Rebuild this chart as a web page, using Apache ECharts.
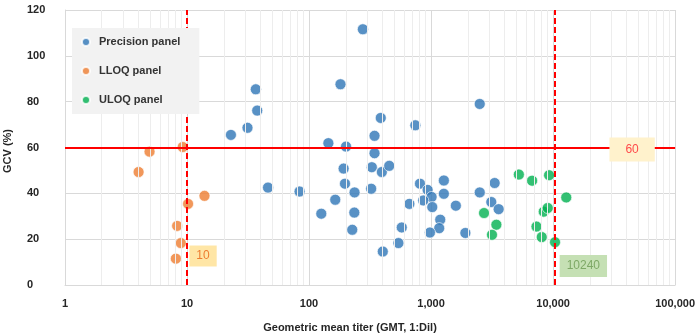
<!DOCTYPE html>
<html><head><meta charset="utf-8">
<script src="https://cdn.jsdelivr.net/npm/echarts@6/dist/echarts.min.js"></script>
<style>html,body{margin:0;padding:0;background:#fff}#c{width:698px;height:335px}</style>
</head><body><div id="c"></div>
<script>
// ---- data ----
const xTicks = [1, 10, 100, 1000, 10000, 100000];
const yTicks = [0, 20, 40, 60, 80, 100, 120];
const seriesNames = ['Precision panel', 'LLOQ panel', 'ULOQ panel'];
const precisionX = [22.9,31.3,36.6,37.6,276,181,387,344,743,144,201,344,2505,192,327,395,454,46.1,83.6,197,236,323,164,126,235,226,402,811,937,1273,1273,1010,863,664,1023,1596,2505,3320,3116,3580,1189,1166,979,1910,575,540];
const precisionY = [65.5,68.6,85.4,76.1,111.6,87.6,72.9,65.1,69.7,61.9,60.4,57.5,79.0,50.8,51.4,49.3,52.0,42.5,40.8,44.2,40.4,42.0,37.2,31.1,31.6,24.1,14.6,44.2,41.5,45.6,39.8,38.4,36.9,35.4,34.0,34.6,40.4,44.5,36.2,33.1,28.5,24.8,22.9,22.7,25.1,18.3];
const lloqX = [4.93,9.22,4.01,13.9,10.2,8.3,8.9,8.1];
const lloqY = [58.2,60.2,49.3,38.9,35.4,25.8,18.3,11.5];
const uloqX = [5240,6730,9270,12820,8380,9040,2717,3430,3157,7310,8070,10370];
const uloqY = [48.2,45.5,47.9,38.2,32.0,33.6,31.4,26.3,21.9,25.5,20.9,18.7];
const gcvThreshold = 60;
const lloqLimit = 10;
const uloqLimit = 10240;
const xName = 'Geometric mean titer (GMT, 1:Dil)';
const yName = 'GCV (%)';

// ---- build ----
const colors = ['#2e75b6', '#ed7d31', '#00b050'];
const zip = (a, b) => a.map((v, i) => [v, b[i]]);
const minorLines = [];
for (let d = 1; d < 100000; d *= 10) for (let k = 2; k <= 9; k++) minorLines.push({ xAxis: k * d });

const FONT = 'Liberation Sans';
const chart = echarts.init(document.getElementById('c'), null, { renderer: 'canvas' });
const scatterStyle = c => ({ color: c, borderColor: '#ffffff', borderWidth: 0.8 });

chart.setOption({
  animation: false,
  textStyle: { fontFamily: FONT },
  grid: { left: 65, right: 20, top: 10, bottom: 50, containLabel: false },
  legend: {
    orient: 'vertical', left: 72, top: 28, z: 20, zlevel: 0,
    backgroundColor: '#f2f2f2', padding: [7, 19, 7, 9], itemGap: 15,
    itemWidth: 8, itemHeight: 8, icon: 'circle',
    data: seriesNames,
    textStyle: { fontFamily: FONT, fontWeight: 'bold', fontSize: 11, color: '#333', lineHeight: 14, padding: [0, 0, 0, 4] }
  },
  xAxis: {
    type: 'log', logBase: 10, min: xTicks[0], max: xTicks[xTicks.length - 1],
    axisLine: { show: true, lineStyle: { color: '#d9d9d9' } },
    axisTick: { show: false },
    axisLabel: { margin: 13, fontFamily: FONT, fontWeight: 'bold', fontSize: 11, color: '#262626',
      formatter: v => Number(v).toLocaleString('en-US') },
    splitLine: { show: true, lineStyle: { color: '#d9d9d9', width: 1 } }
  },
  yAxis: {
    type: 'value', min: yTicks[0], max: yTicks[yTicks.length - 1], interval: 20,
    axisLine: { show: true, lineStyle: { color: '#d9d9d9' } },
    axisTick: { show: false },
    axisLabel: { margin: 38, align: 'left', fontFamily: FONT, fontWeight: 'bold', fontSize: 11, color: '#262626' },
    splitLine: { show: true, lineStyle: { color: '#d9d9d9', width: 1 } }
  },
  graphic: [
    { type: 'text', x: 0, y: 0, style: { text: xName, fontFamily: FONT, fontWeight: 'bold', fontSize: 11, fill: '#262626', x: 350, y: 328, align: 'center', verticalAlign: 'middle' } },
    { type: 'text', rotation: Math.PI / 2, x: 8, y: 151, style: { text: yName, fontFamily: FONT, fontWeight: 'bold', fontSize: 11, fill: '#262626', x: 0, y: 0, align: 'center', verticalAlign: 'middle' } }
  ],
  series: [
    {
      name: 'minor', type: 'scatter', data: [], silent: true, z: 0,
      markLine: { silent: true, symbol: 'none', animation: false, label: { show: false },
        lineStyle: { color: '#ededed', width: 1, type: 'solid' }, data: minorLines }
    },
    {
      name: 'refs', type: 'scatter', data: [], silent: true, z: 1,
      markLine: { silent: true, symbol: 'none', animation: false, label: { show: false },
        data: [
          { yAxis: gcvThreshold, lineStyle: { color: '#ff0000', width: 2, type: 'solid' } },
          { xAxis: lloqLimit, lineStyle: { color: '#ff0000', width: 2, type: [6, 3] } },
          { xAxis: uloqLimit, lineStyle: { color: '#ff0000', width: 2, type: [6, 3] } }
        ] },
      markPoint: { silent: true, symbol: 'rect', symbolSize: 0, animation: false,
        data: [
          { coord: [xTicks[xTicks.length - 1], gcvThreshold], value: String(gcvThreshold),
            label: { show: true, position: 'inside', offset: [-43, 2], formatter: String(gcvThreshold), fontFamily: FONT, fontSize: 12, color: '#ff4a4a', backgroundColor: '#fff2cc', padding: [6, 16, 6, 16] } },
          { coord: [lloqLimit, 0], value: String(lloqLimit),
            label: { show: true, position: 'inside', offset: [16, -29], formatter: String(lloqLimit), fontFamily: FONT, fontSize: 12, color: '#ed7d31', backgroundColor: '#ffe6a6', padding: [5, 7, 4, 7] } },
          { coord: [uloqLimit, 0], value: String(uloqLimit),
            label: { show: true, position: 'inside', offset: [29, -19], formatter: String(uloqLimit), fontFamily: FONT, fontSize: 12, color: '#7ea866', backgroundColor: '#c5e0b4', padding: [5, 7, 5, 7] } }
        ] }
    },
    { name: seriesNames[0], type: 'scatter', z: 3, symbolSize: 11, itemStyle: scatterStyle(colors[0]), data: zip(precisionX, precisionY) },
    { name: seriesNames[1], type: 'scatter', z: 3, symbolSize: 11, itemStyle: scatterStyle(colors[1]), data: zip(lloqX, lloqY) },
    { name: seriesNames[2], type: 'scatter', z: 3, symbolSize: 11, itemStyle: scatterStyle(colors[2]), data: zip(uloqX, uloqY) }
  ]
});
</script></body></html>
